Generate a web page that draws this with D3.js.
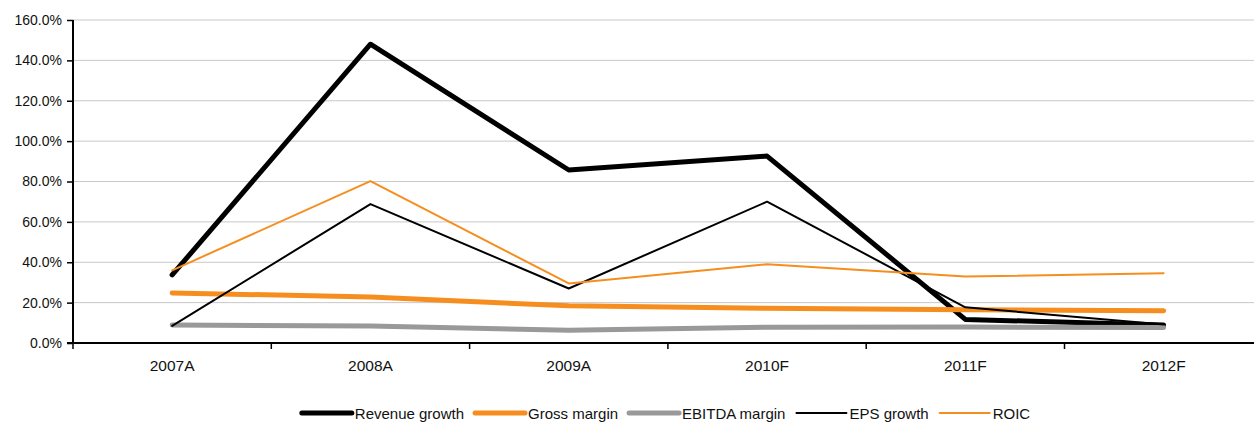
<!DOCTYPE html>
<html>
<head>
<meta charset="utf-8">
<script src="https://cdn.jsdelivr.net/npm/d3@7"></script>
<style>
  html, body { margin: 0; padding: 0; background: #fff; }
  svg { display: block; font-family: "Liberation Sans", Arial, sans-serif; }
</style>
</head>
<body>
<svg id="chart" width="1254" height="423"></svg>
<script>
const categories = ["2007A", "2008A", "2009A", "2010F", "2011F", "2012F"];
const revenueGrowth = [33.7, 148.0, 85.7, 92.6, 11.7, 8.9];
const grossMargin   = [24.8, 22.8, 18.4, 17.2, 16.5, 16.0];
const ebitdaMargin  = [8.9, 8.4, 6.3, 7.8, 7.9, 7.7];
const epsGrowth     = [8.5, 68.8, 27.0, 70.0, 17.7, 9.2];
const roic          = [36.0, 80.2, 29.5, 39.0, 32.9, 34.5];
const yTicks = [0, 20, 40, 60, 80, 100, 120, 140, 160];

const series = [
  { name: "Revenue growth", values: revenueGrowth, color: "#000000", width: 5 },
  { name: "Gross margin",   values: grossMargin,   color: "#f68e1f", width: 5 },
  { name: "EBITDA margin",  values: ebitdaMargin,  color: "#999999", width: 5 },
  { name: "EPS growth",     values: epsGrowth,     color: "#000000", width: 2 },
  { name: "ROIC",           values: roic,          color: "#f68e1f", width: 2 }
];

const svg = d3.select("#chart");
const mLeft = 73, mTop = 20, mBottom = 343, bandW = 198.3;
const x = d3.scaleBand().domain(categories).range([mLeft, mLeft + bandW * categories.length]).padding(0);
const y = d3.scaleLinear().domain([0, 160]).range([mBottom, mTop]);

// gridlines
svg.append("g").selectAll("line").data(yTicks.filter(d => d > 0)).join("line")
  .attr("x1", mLeft).attr("x2", 1254)
  .attr("y1", d => y(d)).attr("y2", d => y(d))
  .attr("stroke", "#c8c8c8").attr("stroke-width", 1);

// y axis
const yAxis = d3.axisLeft(y).tickValues(yTicks).tickSize(6).tickPadding(5)
  .tickFormat(d => d.toFixed(1) + "%");
const gy = svg.append("g").attr("transform", `translate(${mLeft},0)`).call(yAxis);
gy.select(".domain").remove();
gy.selectAll(".tick line").attr("stroke", "#000").attr("stroke-width", 1.5);
gy.selectAll(".tick text").attr("font-size", "14px").attr("fill", "#111")
  .attr("font-family", "Liberation Sans, Arial, sans-serif");
svg.append("line").attr("x1", mLeft).attr("x2", mLeft).attr("y1", mTop).attr("y2", mBottom + 1)
  .attr("stroke", "#000").attr("stroke-width", 2);

// x axis
const bandEdges = categories.map(c => x(c)).concat([x(categories[categories.length - 1]) + x.bandwidth()]);
svg.append("line").attr("x1", mLeft - 6).attr("x2", 1254).attr("y1", mBottom).attr("y2", mBottom)
  .attr("stroke", "#000").attr("stroke-width", 2);
svg.append("g").selectAll("line").data(bandEdges).join("line")
  .attr("x1", d => d).attr("x2", d => d).attr("y1", mBottom).attr("y2", mBottom + 6)
  .attr("stroke", "#000").attr("stroke-width", 1.5);
svg.append("g").selectAll("text").data(categories).join("text")
  .attr("x", d => x(d) + x.bandwidth() / 2).attr("y", 371)
  .attr("text-anchor", "middle").attr("font-size", "15.5px").attr("fill", "#111")
  .text(d => d);

// lines
const line = d3.line()
  .x((d, i) => x(categories[i]) + x.bandwidth() / 2)
  .y(d => y(d));
svg.append("g").selectAll("path").data(series).join("path")
  .attr("d", s => line(s.values))
  .attr("fill", "none")
  .attr("stroke", s => s.color)
  .attr("stroke-width", s => s.width)
  .attr("stroke-linejoin", "round")
  .attr("stroke-linecap", "round");

// legend
const lg = svg.append("g");
const lineLen = 50, textGap = 3, itemGap = 11, legY = 413;
let cx = 0;
series.forEach(s => {
  const g = lg.append("g").attr("transform", `translate(${cx},0)`);
  g.append("line").attr("x1", 0).attr("x2", lineLen).attr("y1", legY).attr("y2", legY)
    .attr("stroke", s.color).attr("stroke-width", s.width).attr("stroke-linecap", "round");
  const t = g.append("text").attr("x", lineLen + textGap).attr("y", 419)
    .attr("font-size", "15px").attr("fill", "#111").text(s.name);
  const w = t.node().getComputedTextLength();
  cx += lineLen + textGap + w + itemGap;
});
const totalW = cx - itemGap;
lg.attr("transform", `translate(${666 - totalW / 2},0)`);
</script>
</body>
</html>
